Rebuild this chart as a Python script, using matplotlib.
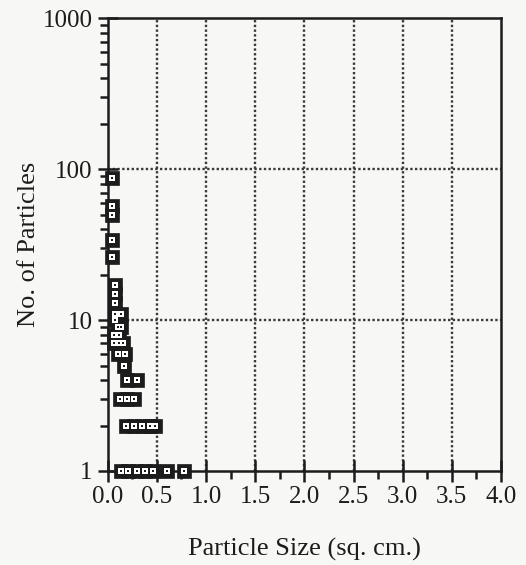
import numpy as np
import matplotlib
matplotlib.use('Agg')
from matplotlib import pyplot as plt
from matplotlib.ticker import FixedLocator, NullFormatter

plt.rcParams['font.family'] = ['Liberation Serif', 'DejaVu Serif']

# particle counts by size class
size = [0.04, 0.04, 0.04, 0.04, 0.04,
        0.07, 0.07, 0.07, 0.07, 0.07,
        0.14, 0.10, 0.14, 0.06, 0.11,
        0.06, 0.11, 0.16, 0.10, 0.18,
        0.17, 0.20, 0.30,
        0.12, 0.20, 0.27,
        0.19, 0.27, 0.35, 0.43, 0.48,
        0.14, 0.21, 0.30, 0.38, 0.46, 0.60, 0.78]
count = [88, 57, 50, 34, 26,
         17, 15, 13, 11, 10,
         11, 9, 9, 8, 8,
         7, 7, 7, 6, 6,
         5, 4, 4,
         3, 3, 3,
         2, 2, 2, 2, 2,
         1, 1, 1, 1, 1, 1, 1]

x_ticks = [0.0, 0.5, 1.0, 1.5, 2.0, 2.5, 3.0, 3.5, 4.0]
y_ticks = [1, 10, 100, 1000]

bg = '#f7f7f5'
ink = '#1c1c1c'

fig = plt.figure(figsize=(5.26, 5.65), dpi=100, facecolor=bg)
ax = fig.add_axes([0.2048, 0.1664, 0.7477, 0.8012], facecolor=bg)

ax.set_xscale('linear')
ax.set_yscale('log')
ax.set_xlim(0, 4)
ax.set_ylim(1, 1000)

# dotted grid
for xv in x_ticks[1:-1]:
    ax.axvline(xv, color='#3a3a3a', lw=1.7, ls=(0, (1, 1)), zorder=1)
for yv in y_ticks[1:-1]:
    ax.axhline(yv, color='#3a3a3a', lw=1.7, ls=(0, (1, 1)), zorder=1)

# boxed markers: black square, white inner square, centre dot
ax.plot(size, count, ls='none', marker='s', ms=9.4, mfc=ink, mec=ink, mew=0.5,
        zorder=4, clip_on=False)
ax.plot(size, count, ls='none', marker='s', ms=4.0, mfc='white', mec='white', mew=0,
        zorder=5, clip_on=False)
ax.plot(size, count, ls='none', marker='s', ms=1.6, mfc=ink, mec=ink, mew=0,
        zorder=6, clip_on=False)

for s in ax.spines.values():
    s.set_color(ink)
    s.set_linewidth(1.8)

ax.xaxis.set_major_locator(FixedLocator(x_ticks))
ax.xaxis.set_minor_locator(FixedLocator(np.arange(0.25, 4.0, 0.5)))
ax.set_xticklabels(['%.1f' % v for v in x_ticks])
ax.yaxis.set_major_locator(FixedLocator(y_ticks))
ax.set_yticklabels([str(v) for v in y_ticks])
ax.yaxis.set_minor_formatter(NullFormatter())

ax.tick_params(axis='both', which='major', direction='inout', length=14, width=1.8,
               color=ink, labelsize=18, labelcolor=ink, pad=4)
ax.tick_params(axis='both', which='minor', direction='out', length=6, width=1.8, color=ink)
ax.tick_params(axis='x', which='major', length=16, pad=3)

ax.set_xlabel('Particle Size (sq. cm.)', fontsize=19, color=ink, labelpad=21)
ax.set_ylabel('No. of Particles', fontsize=19, color=ink, labelpad=2)

plt.savefig('out.png', dpi=100, facecolor=bg)
